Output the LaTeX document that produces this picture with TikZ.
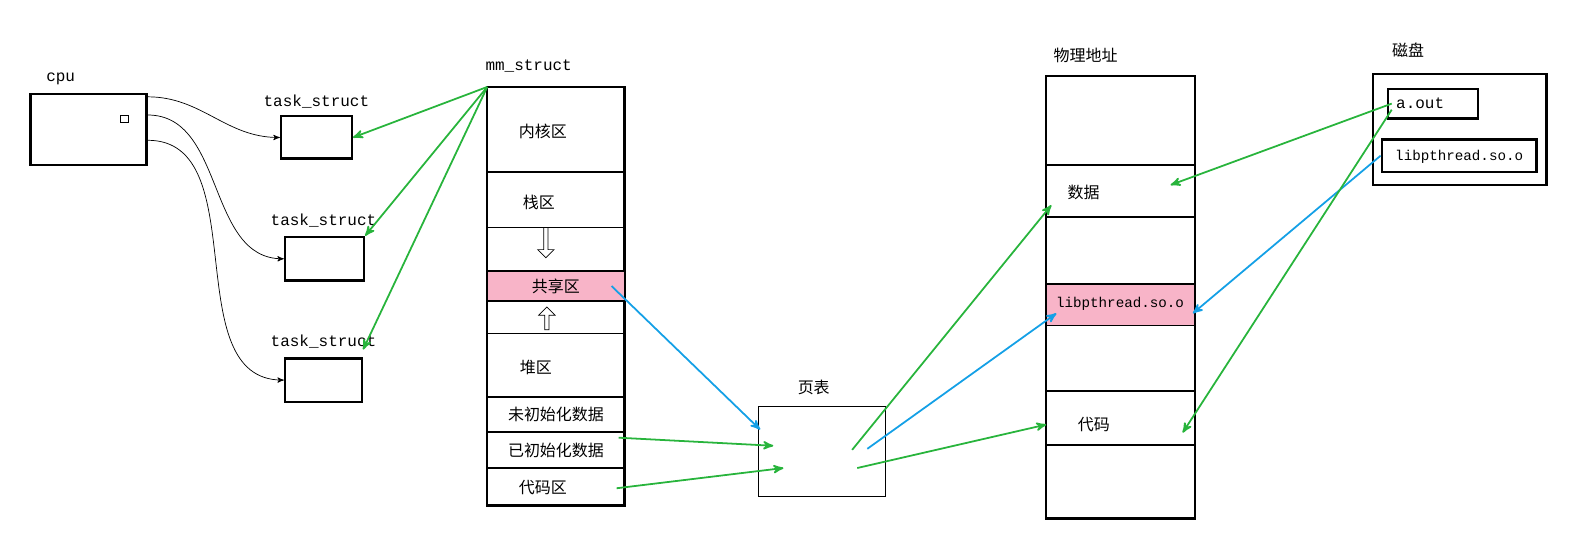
\documentclass[tikz,border=0pt]{standalone}
\usepackage{fontspec}
\setmainfont{Liberation Mono}
\newfontfamily\cjk{Noto Sans CJK SC}
\usetikzlibrary{arrows, positioning, shapes.arrows}
\definecolor{pinkfill}{RGB}{248,180,200}
\definecolor{mygreen}{RGB}{40,180,60}
\definecolor{myblue}{RGB}{20,160,230}
\begin{document}
\begin{tikzpicture}[x=0.02cm, y=-0.02cm, >=stealth']
    \tikzstyle{box} = [draw, line width=1.4pt, inner sep=0pt]
    \tikzstyle{lbl} = [font=\small]
    \tikzstyle{zh} = [font=\cjk\small]
    \tikzstyle{green} = [draw=mygreen, line width=1pt, ->]
    \tikzstyle{blue} = [draw=myblue, line width=1pt, ->]
    \useasboundingbox (0,0) rectangle (1567,551);
    % cpu and tasks
    \node [lbl] at (60,78) {cpu};
    \node [box, minimum width=2.3cm, minimum height=1.4cm] (cpu) at (87.5,128) {};
    \node [draw, minimum size=0.14cm, inner sep=0pt] (core) at (123,118) {};
    \node [box, minimum width=1.4cm, minimum height=0.84cm] (t1) at (313,136) {};
    \node [box, minimum width=1.56cm, minimum height=0.86cm] (t2) at (321,256) {};
    \node [box, minimum width=1.52cm, minimum height=0.86cm] (t3) at (320,376) {};
    \node [lbl] at (313,100) {task\_struct};
    \node [lbl] at (320,218) {task\_struct};
    \node [lbl] at (320,338) {task\_struct};
    \draw [->] ([yshift=-0.08cm]cpu.north east) to[out=0, in=180] (t1.west);
    \draw [->] ([yshift=-0.44cm]cpu.north east) to[out=0, in=180] (t2.west);
    \draw [->] ([yshift=-0.94cm]cpu.north east) to[out=0, in=180] (t3.west);
    % mm_struct
    \node [lbl] at (523,65) {mm\_struct};
    \coordinate (mm) at (482,86);
    \draw [line width=1.4pt] (482,86) rectangle (618,500);
    \fill [pinkfill] (483,268) rectangle (617,298);
    \foreach \y in {170,225,268,298,330,393,427,463}
        \draw [line width=1pt] (482,\y) -- (618,\y);
    \node [zh] at (537,130) {内核区};
    \node [zh] at (533,200) {栈区};
    \node [draw, single arrow, shape border rotate=270, minimum height=0.6cm,
        single arrow head extend=0.12cm, inner sep=1pt, minimum width=0.2cm] at (540,239) {};
    \node [zh] (share) at (550,283) {共享区};
    \node [draw, single arrow, shape border rotate=90, minimum height=0.45cm,
        single arrow head extend=0.12cm, inner sep=1pt, minimum width=0.2cm] at (541,316) {};
    \node [zh] at (530,364) {堆区};
    \node [zh] at (550,410) {未初始化数据};
    \node [zh] (init) at (550,446) {已初始化数据};
    \node [zh] (code) at (537,482) {代码区};
    \draw [green] (mm) -- (t1.east);
    \draw [green] (mm) -- (t2.north east);
    \draw [green] (mm) -- ([yshift=0.15cm]t3.north east);
    % page table
    \node [zh] at (805,383) {页表};
    \node [draw, minimum width=2.52cm, minimum height=1.78cm] (pt) at (813,446.5) {};
    \draw [blue] (605,283) -- (752,425);
    \draw [green] (612,433) -- (765,441);
    \draw [green] (610,483) -- (775,463);
    % physical memory
    \node [zh] at (1074,55) {物理地址};
    \draw [line width=1.4pt] (1035,75) rectangle (1182,513);
    \fill [pinkfill] (1036,281) rectangle (1181,322);
    \foreach \y in {163,215,281,322,387,440}
        \draw [line width=1pt] (1035,\y) -- (1182,\y);
    \node [zh] (data) at (1072,190) {数据};
    \node [font=\footnotesize] (lib) at (1108,301) {libpthread.so.o};
    \node [zh] (pcode) at (1082,420) {代码};
    \draw [green] (843,445) -- (1040,203);
    \draw [blue] (858,444) -- (1045,310);
    \draw [green] (848,463) -- (1035,420);
    % disk
    \node [zh] at (1393,50) {磁盘};
    \draw [line width=1.4pt] (1358,73) rectangle (1530,183);
    \node [box, minimum width=1.78cm, minimum height=0.58cm] (aout) at (1417.5,102.5) {};
    \node [lbl, right] at (1375,102.5) {a.out};
    \node [box, minimum width=3.06cm, minimum height=0.64cm] (libd) at (1443.5,154) {};
    \node [font=\footnotesize] at (1443.5,155) {libpthread.so.o};
    \draw [green] ([xshift=0.1cm]aout.west) -- (1158,183);
    \draw [blue] (libd.west) -- (1180,310);
    \draw [green] ([xshift=0.1cm,yshift=-0.12cm]aout.west) -- (1170,428);
\end{tikzpicture}
\end{document}
